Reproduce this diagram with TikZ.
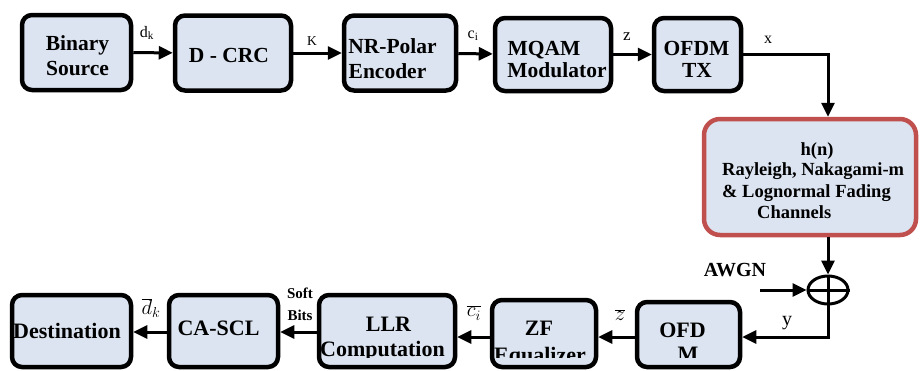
\documentclass[tikz,border=0pt]{standalone}
\usepackage{fontspec}
\setmainfont{Liberation Serif}
\usetikzlibrary{arrows.meta,shapes.geometric,calc}
\definecolor{boxfill}{HTML}{DCE4F1}
\definecolor{chred}{HTML}{C0504D}
\begin{document}
\begin{tikzpicture}[x=1pt,y=-1pt,
  blk/.style={draw=black, line width=4.5pt, fill=boxfill, rounded corners=10pt, inner sep=0pt},
  ttxt/.style={anchor=base, font=\fontsize{21.5}{25}\selectfont\bfseries, inner sep=0pt},
  btxt/.style={anchor=base, font=\fontsize{22}{25}\selectfont\bfseries, inner sep=0pt},
  ctxt/.style={anchor=base west, font=\fontsize{18.5}{20}\selectfont\bfseries, inner sep=0pt},
  arr/.style={line width=3pt, -{Triangle[length=14pt,width=13pt]}},
  lbl/.style={anchor=base, font=\fontsize{16}{16}\selectfont, inner sep=0pt},
  mlbl/.style={font=\fontsize{21}{21}\selectfont, inner sep=0pt}]
\useasboundingbox (0,0) rectangle (920,370);
\clip (0,0) rectangle (920,370);
% top row
\node[blk, minimum width=109, minimum height=75] (bs) at (76.5,52.5) {};
\node[blk, minimum width=116, minimum height=75] (crc) at (233,53) {};
\node[blk, minimum width=112, minimum height=75] (pol) at (400,53) {};
\node[blk, minimum width=116, minimum height=73] (mq) at (553,54.5) {};
\node[blk, minimum width=87, minimum height=73] (tx) at (697.5,54.5) {};
\node[ttxt] (bs1) at (77.5,50) {Binary};
\node[ttxt] (bs2) at (77.5,75) {Source};
\node[ttxt] (crc1) at (229,62) {D - CRC};
\node[ttxt] (pol1) at (392.5,53) {NR-Polar};
\node[ttxt] (pol2) at (387.5,78) {Encoder};
\node[ttxt] (mq1) at (544,55) {MQAM};
\node[ttxt] (mq2) at (557,77) {Modulator};
\node[ttxt] (tx1) at (696.5,55) {OFDM};
\node[ttxt] (tx2) at (697,77) {TX};
% channel
\node[blk, draw=chred, minimum width=212, minimum height=116, rounded corners=16pt] (ch) at (810,177) {};
\node[ctxt, anchor=base] (ch1) at (817,155) {h(n)};
\node[ctxt] (ch2) at (722,175) {Rayleigh, Nakagami-m};
\node[ctxt] (ch3) at (722,197) {\& Lognormal Fading};
\node[ctxt] (ch4) at (757,218) {Channels};
% sum
\node[draw, ellipse, line width=3pt, minimum width=40, minimum height=28, inner sep=0pt] (sum) at (828,290) {};
\draw[line width=3pt] (sum.north) -- (sum.south) (sum.west) -- (sum.east);
\node[anchor=base, font=\fontsize{20}{20}\selectfont\bfseries, inner sep=0pt] (awgn) at (735,276) {AWGN};
\coordinate (an) at (760,290);
% bottom row
\node[blk, minimum width=103, minimum height=65] (ofd) at (688.5,334.5) {};
\node[blk, minimum width=104, minimum height=67] (zf) at (544,333.5) {};
\node[blk, minimum width=136, minimum height=72] (llr) at (387,331) {};
\node[blk, minimum width=109, minimum height=72] (ca) at (223.5,331) {};
\node[blk, minimum width=119, minimum height=72] (dst) at (71.5,331) {};
\node[btxt] (cat) at (218.5,335) {CA-SCL};
\node[btxt] (dstt) at (67,338) {Destination};
\node[btxt] (llr1) at (388.5,331) {LLR};
\node[btxt] (zf1) at (539,335) {ZF};
\node[btxt] (ofd1) at (682.5,337) {OFD};
\begin{scope}
\clip (0,0) rectangle (920,357);
\node[btxt] (llr2) at (382.5,356) {Computation};
\node[btxt] (zf2) at (540,362) {Equalizer};
\node[btxt] (ofd2) at (688,361) {M};
\end{scope}
% arrows
\draw[arr] (bs) -- (crc);
\draw[arr] (crc) -- (pol);
\draw[arr] (pol) -- (mq);
\draw[arr] (mq) -- (tx);
\draw[arr] (tx.east) -| (ch.north -| sum.north);
\draw[arr] (ch.south -| sum.north) -- (sum.north);
\draw[arr] (an) -- (sum.west);
\draw[arr] (sum.south) |- ([yshift=-2.5pt]ofd.east);
\draw[arr] ([yshift=-2.5pt]ofd.west) -- ([yshift=-3.5pt]zf.east);
\draw[arr] ([yshift=-3.5pt]zf.west) -- ([yshift=-6pt]llr.east);
\draw[arr] ([yshift=-1pt]llr.west) -- ([yshift=-1pt]ca.east);
\draw[arr] ([yshift=-1pt]ca.west) -- ([yshift=-1pt]dst.east);
% labels
\node[lbl] (ldk) at (147,37) {d\textsubscript{k}};
\node[lbl, font=\fontsize{13.5}{13.5}\selectfont] (lK) at (312,45) {K};
\node[lbl] (lci) at (473,38) {c\textsubscript{i}};
\node[lbl, font=\fontsize{17}{17}\selectfont] (lz) at (627,40) {z};
\node[lbl] (lx) at (768,43) {x};
\node[lbl, font=\fontsize{20}{20}\selectfont] (ly) at (787,325) {y};
\node[anchor=base, font=\fontsize{15}{15}\selectfont\bfseries, inner sep=0pt] (soft1) at (300,298) {Soft};
\node[anchor=base, font=\fontsize{15}{15}\selectfont\bfseries, inner sep=0pt] (soft2) at (300,320) {Bits};
\node[mlbl] (ldb) at (151,308) {$\overline{d}_k$};
\node[mlbl] (lcb) at (474,313) {$\overline{c_i}$};
\node[mlbl] (lzb) at (620,315) {$\overline{z}$};
\end{tikzpicture}
\end{document}
